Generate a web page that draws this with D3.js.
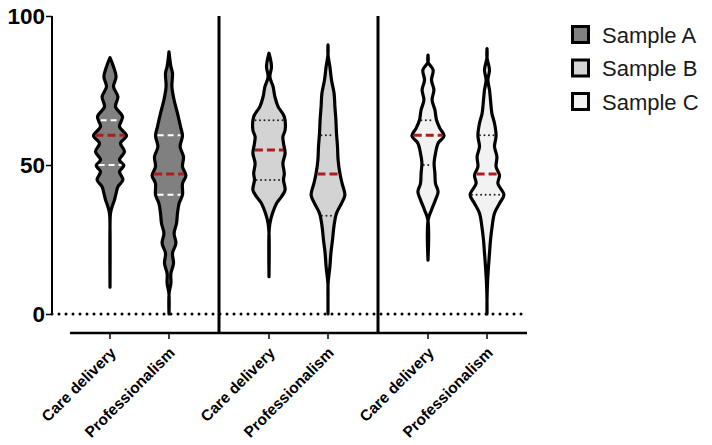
<!DOCTYPE html>
<html>
<head>
<meta charset="utf-8">
<script src="https://cdn.jsdelivr.net/npm/d3@7"></script>
<style>
  body { margin: 0; background: #fff; }
  text { font-family: "Liberation Sans", Arial, sans-serif; }
</style>
</head>
<body>
<div id="chart"></div>
<script>
// data
var samples = ["Sample A", "Sample B", "Sample C"];
var categories = ["Care delivery", "Professionalism"];
var fills = ["#808080", "#d3d3d3", "#f2f2f2"];

// violin outlines: [score, relative density]
var aCare = [[86,0],[83,.25],[79.6,.38],[76.3,.25],[72.9,.47],[69.6,.35],[66.2,.7],[62.9,.55],[59.8,.9],[57.3,.6],[54.5,.8],[51.7,.55],[49.8,.77],[47.8,.55],[45,.72],[42.7,.47],[40.5,.38],[38.3,.3],[36,.18],[33.8,.1],[29.3,.05],[9,0]];
var aProf = [[88,0],[83,.17],[80.8,.25],[76.3,.22],[71.8,.33],[67.3,.5],[62.9,.65],[59.8,.75],[56.2,.63],[52.8,.8],[49.4,.75],[46.5,.92],[43.8,.75],[40,.75],[37.1,.58],[33.8,.5],[30.4,.45],[27.1,.33],[23.7,.42],[20.4,.25],[17,.3],[13.6,.17],[10.3,.17],[6.9,.08],[0,0]];
var bCare = [[87.5,0],[83,.2],[79.6,.12],[76.3,.28],[72.9,.37],[69.6,.53],[66.2,.84],[61.7,.88],[59.5,.77],[57.3,.8],[53.9,.88],[50.6,.77],[47.2,.84],[45,.8],[41.6,.88],[39.4,.7],[37.1,.45],[33.8,.25],[30.4,.12],[27.1,.07],[12.5,0]];
var bProf = [[90.3,0],[87,.04],[83,.17],[78.5,.25],[74,.38],[69.6,.42],[65.1,.47],[60.6,.5],[56.2,.55],[51.7,.58],[47.2,.67],[43.8,.78],[39.9,.92],[37.1,.75],[33.8,.5],[29.3,.37],[24.8,.3],[20.4,.22],[15.9,.17],[10.3,.08],[4.7,.03],[0,0]];
var cCare = [[86.9,0],[84.5,.08],[81.9,.33],[78.5,.25],[75.2,.37],[71.8,.28],[68.5,.42],[65.1,.5],[62.3,.67],[59.8,.88],[57.3,.58],[53.9,.45],[50.6,.38],[47.2,.42],[43.8,.45],[41,.58],[38.3,.45],[34.9,.25],[31.5,.08],[18.1,0]];
var cProf = [[89.1,0],[86,.05],[81.9,.2],[78.5,.12],[75.2,.2],[71.8,.25],[67.3,.32],[64,.45],[59.8,.53],[56.2,.45],[52.8,.57],[49.4,.53],[46.5,.7],[43.8,.62],[40,.92],[37.1,.7],[33.8,.45],[29.3,.33],[24.8,.25],[20.4,.2],[15.9,.15],[10.3,.1],[4.7,.07],[0,0]];
var shapes = [[aCare, aProf], [bCare, bProf], [cCare, cProf]];

// quartiles per sample: [care delivery, professionalism]
var q1 = [[50, 40], [45, 33], [50, 40]];
var medians = [[60, 47], [55, 47], [60, 47]];
var q3 = [[65, 60], [65, 60], [65, 60]];

var yTicks = [0, 50, 100];

// set dimensions
var width = 712, height = 445;
var svg = d3.select("#chart").append("svg")
            .attr("width", width)
            .attr("height", height);

var y = d3.scaleLinear().domain([0, 100]).range([314, 16]);
var xGroup = d3.scaleBand().domain(samples).range([60, 537]);
var xCat = d3.scalePoint().domain(categories).range([50, 109]);
var dens = d3.scaleLinear().domain([0, 1]).range([-1.5, 18.5]);

// zero line
svg.append("line")
   .attr("x1", 52).attr("x2", 527)
   .attr("y1", y(0)).attr("y2", y(0))
   .attr("stroke", "#000").attr("stroke-width", 3)
   .attr("stroke-dasharray", "0,7").attr("stroke-linecap", "round");

// y axis
var yAxis = svg.append("g").attr("transform", "translate(52,0)");
yAxis.call(d3.axisLeft(y).tickValues(d3.range(0, 101, 5)).tickSize(3).tickFormat(""));
yAxis.call(d3.axisLeft(y).tickValues(yTicks).tickSize(6).tickFormat(d3.format("d")));
yAxis.selectAll(".domain").attr("stroke-width", 2).attr("d", "M0," + y(100) + "V" + y(0));
yAxis.selectAll("line").attr("stroke-width", 1.5);
yAxis.selectAll("text")
     .attr("font-size", "22.5px").attr("font-weight", 700)
     .attr("fill", "#000").attr("x", -7)
     .attr("font-family", "Liberation Sans, Arial, sans-serif");

// x axis line and ticks
svg.append("line")
   .attr("x1", 70).attr("x2", 527).attr("y1", 333).attr("y2", 333)
   .attr("stroke", "#000").attr("stroke-width", 2.5);

// separators between samples
samples.slice(1).forEach(function(s){
  svg.append("line")
     .attr("x1", xGroup(s)).attr("x2", xGroup(s))
     .attr("y1", y(100)).attr("y2", 334)
     .attr("stroke", "#000").attr("stroke-width", 3);
});

var area = d3.area()
    .y(function(d){ return y(d[0]); })
    .curve(d3.curveCatmullRom.alpha(0.5));

function halfWidth(shape, v){
  var s = shape.slice().sort(function(a, b){ return a[0] - b[0]; });
  var f = d3.scaleLinear().domain(s.map(function(d){ return d[0]; }))
            .range(s.map(function(d){ return d[1]; }));
  return Math.max(0, dens(f(v)));
}

samples.forEach(function(s, i){
  categories.forEach(function(c, j){
    var cx = xGroup(s) + xCat(c);
    var shape = shapes[i][j];

    // tick
    svg.append("line")
       .attr("x1", cx).attr("x2", cx).attr("y1", 333).attr("y2", 339)
       .attr("stroke", "#000").attr("stroke-width", 1.5);

    svg.append("path")
       .datum(shape)
       .attr("d", area.x0(function(d){ return cx - Math.max(0, dens(d[1])); })
                      .x1(function(d){ return cx + Math.max(0, dens(d[1])); }))
       .attr("fill", fills[i])
       .attr("stroke", "#000")
       .attr("stroke-width", 3.2)
       .attr("stroke-linejoin", "round");

    // quartile lines
    [q1[i][j], q3[i][j]].forEach(function(q){
      var w = halfWidth(shape, q) - 2;
      svg.append("line")
         .attr("x1", cx - w).attr("x2", cx + w)
         .attr("y1", y(q)).attr("y2", y(q))
         .attr("stroke", i == 0 ? "#fff" : "#222")
         .attr("stroke-width", 2)
         .attr("stroke-dasharray", i == 0 ? "6,4" : "0,4.5")
         .attr("stroke-linecap", i == 0 ? "butt" : "round");
    });

    // median
    var m = medians[i][j];
    var wm = halfWidth(shape, m) - 1.5;
    svg.append("line")
       .attr("x1", cx - wm).attr("x2", cx + wm)
       .attr("y1", y(m)).attr("y2", y(m))
       .attr("stroke", "#b01c1c")
       .attr("stroke-width", 3)
       .attr("stroke-dasharray", "8,4");

    // category label
    svg.append("text")
       .attr("transform", "translate(" + (cx + 3) + ",350) rotate(-45)")
       .attr("text-anchor", "end")
       .attr("dy", "0.35em")
       .attr("font-size", "15.5px")
       .attr("font-weight", 700)
       .text(c);
  });
});

// legend
var legend = svg.append("g").attr("transform", "translate(571,25)");
samples.forEach(function(s, i){
  var g = legend.append("g").attr("transform", "translate(0," + (i * 33.5) + ")");
  g.append("rect")
   .attr("x", 1.5).attr("y", 1.5).attr("width", 16).attr("height", 16)
   .attr("fill", fills[i]).attr("stroke", "#000").attr("stroke-width", 3);
  g.append("text")
   .attr("x", 31).attr("y", 17.5)
   .attr("font-size", "22px")
   .attr("fill", "#1a1a1a")
   .text(s);
});
</script>
</body>
</html>
